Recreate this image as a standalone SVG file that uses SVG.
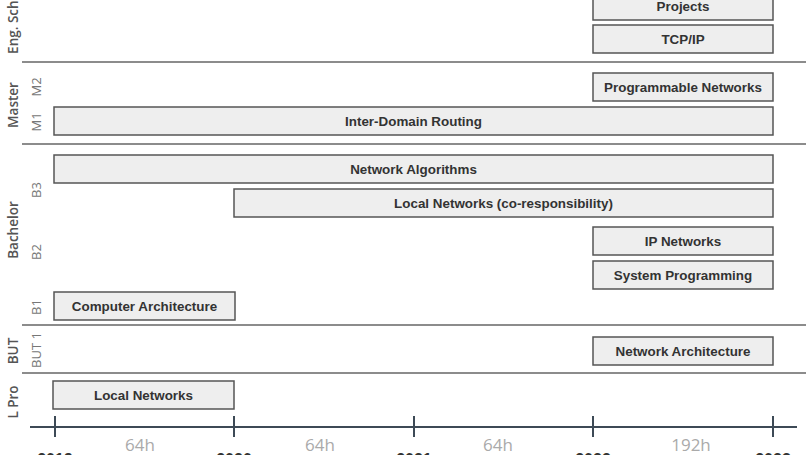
<svg xmlns="http://www.w3.org/2000/svg" width="808" height="455" viewBox="0 0 808 455">
<style>
.sep{stroke:#666;stroke-width:1.5;fill:none}
.box rect{fill:#eeeeee;stroke:#555;stroke-width:1.5}
.box text{font-family:"Liberation Sans",Arial,sans-serif;font-weight:bold;font-size:13.4px;fill:#333;text-anchor:middle}
.grp{font-family:"Open Sans","Noto Sans",sans-serif;font-weight:600;font-size:13.5px;fill:#555;text-anchor:middle}
.sub{font-family:"Open Sans","Noto Sans",sans-serif;font-size:13px;fill:#777;text-anchor:middle}
.axis{stroke:#3d4a56;stroke-width:2;fill:none}
.hrs{font-family:"Open Sans","Noto Sans",sans-serif;font-size:17px;fill:#aaa;text-anchor:middle}
.yr{font-family:"Liberation Sans",Arial,sans-serif;font-weight:bold;font-size:16px;fill:#333;text-anchor:middle}
</style>
<rect width="808" height="455" fill="#fff"/>
<g id="separators">
<line class="sep" x1="22" y1="62" x2="806" y2="62"/>
<line class="sep" x1="22" y1="144" x2="806" y2="144"/>
<line class="sep" x1="22" y1="325" x2="806" y2="325"/>
<line class="sep" x1="22" y1="373" x2="806" y2="373"/>
</g>
<g id="row-labels">
<text class="grp" transform="translate(18,17) rotate(-90)">Eng. School</text>
<text class="grp" transform="translate(18,105) rotate(-90)">Master</text>
<text class="sub" transform="translate(41,87) rotate(-90)">M2</text>
<text class="sub" transform="translate(41,122) rotate(-90)">M1</text>
<text class="grp" transform="translate(18,230) rotate(-90)">Bachelor</text>
<text class="sub" transform="translate(41,190) rotate(-90)">B3</text>
<text class="sub" transform="translate(41,252) rotate(-90)">B2</text>
<text class="sub" transform="translate(41,307) rotate(-90)">B1</text>
<text class="grp" transform="translate(18,351) rotate(-90)">BUT</text>
<text class="sub" transform="translate(41,350) rotate(-90)">BUT 1</text>
<text class="grp" transform="translate(18,402) rotate(-90)">L Pro</text>
</g>
<g id="projects" class="box"><rect x="593" y="-8" width="180" height="28"/><text x="683" y="11">Projects</text></g>
<g id="tcpip" class="box"><rect x="593" y="25" width="180" height="28"/><text x="683" y="44">TCP/IP</text></g>
<g id="programmable-networks" class="box"><rect x="593" y="73" width="180" height="28"/><text x="683" y="92">Programmable Networks</text></g>
<g id="inter-domain-routing" class="box"><rect x="54" y="107" width="719" height="28"/><text x="413.5" y="126">Inter-Domain Routing</text></g>
<g id="network-algorithms" class="box"><rect x="54" y="155" width="719" height="28"/><text x="413.5" y="174">Network Algorithms</text></g>
<g id="local-networks-co" class="box"><rect x="234" y="189" width="539" height="28"/><text x="503.5" y="208">Local Networks (co-responsibility)</text></g>
<g id="ip-networks" class="box"><rect x="593" y="227" width="180" height="28"/><text x="683" y="246">IP Networks</text></g>
<g id="system-programming" class="box"><rect x="593" y="261" width="180" height="28"/><text x="683" y="280">System Programming</text></g>
<g id="computer-architecture" class="box"><rect x="54" y="292" width="181" height="28"/><text x="144.5" y="311">Computer Architecture</text></g>
<g id="network-architecture" class="box"><rect x="593" y="337" width="180" height="28"/><text x="683" y="356">Network Architecture</text></g>
<g id="local-networks" class="box"><rect x="53" y="381" width="181" height="28"/><text x="143.5" y="400">Local Networks</text></g>
<g id="timeline">
<line class="axis" x1="30" y1="427" x2="797" y2="427"/>
<line class="axis" x1="55" y1="416" x2="55" y2="437"/>
<line class="axis" x1="234" y1="416" x2="234" y2="437"/>
<line class="axis" x1="414" y1="416" x2="414" y2="437"/>
<line class="axis" x1="593" y1="416" x2="593" y2="437"/>
<line class="axis" x1="773" y1="416" x2="773" y2="437"/>
<text class="hrs" x="140" y="451">64h</text>
<text class="hrs" x="320" y="451">64h</text>
<text class="hrs" x="498" y="451">64h</text>
<text class="hrs" x="691" y="451">192h</text>
<text class="yr" x="55" y="465">2019</text>
<text class="yr" x="234" y="465">2020</text>
<text class="yr" x="414" y="465">2021</text>
<text class="yr" x="593" y="465">2022</text>
<text class="yr" x="773" y="465">2023</text>
</g>
</svg>
